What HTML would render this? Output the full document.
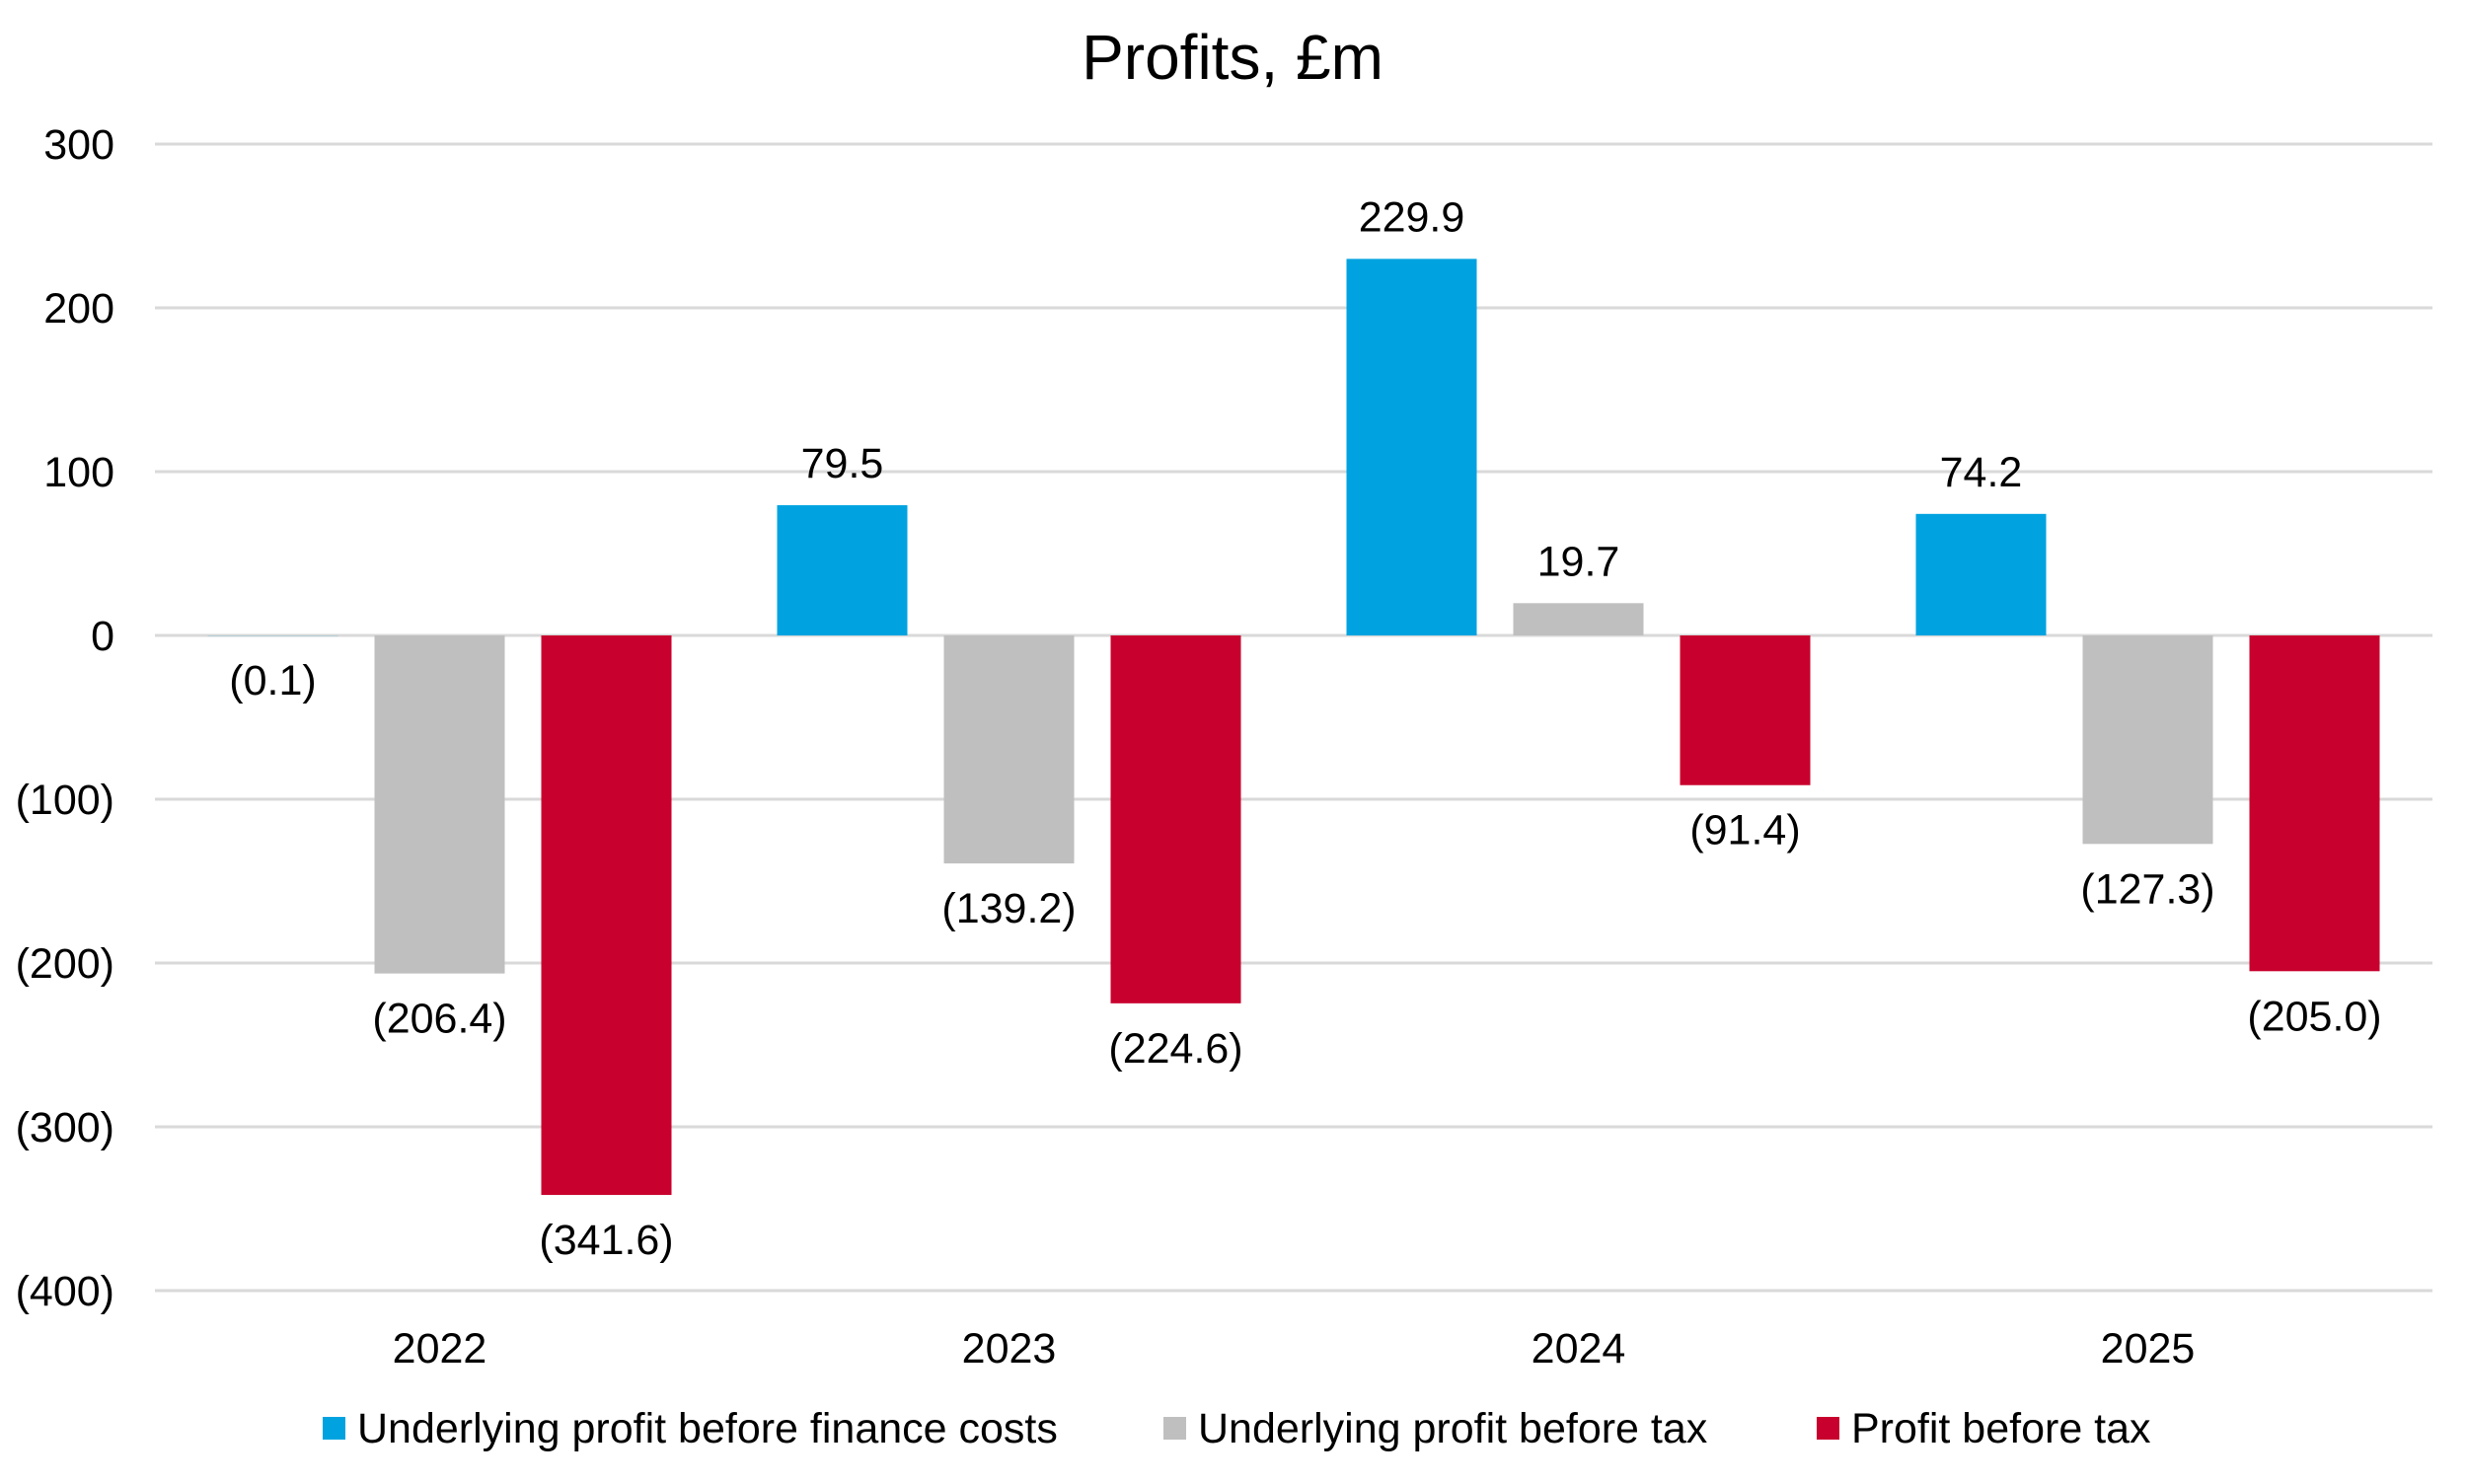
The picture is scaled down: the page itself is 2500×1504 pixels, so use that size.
<!DOCTYPE html>
<html><head><meta charset="utf-8"><style>
html,body{margin:0;padding:0;background:#fff;}
svg{display:block;font-family:"Liberation Sans",sans-serif;}
</style></head><body>
<svg id="chart" width="2500" height="1504" viewBox="0 0 2500 1504" xmlns="http://www.w3.org/2000/svg">
<text x="1249" y="80" font-size="64" text-anchor="middle" fill="#000">Profits, £m</text>
<g id="grid"></g><g id="bars"></g><g id="labels"></g><g id="legend"></g>
</svg>
<script>
const categories = ["2022","2023","2024","2025"];
const seriesNames = ["Underlying profit before finance costs","Underlying profit before tax","Profit before tax"];
const seriesColors = ["#00a3e0","#bfbfbf","#c8002d"];
const underlyingBeforeFinance = [-0.1, 79.5, 229.9, 74.2];
const underlyingBeforeTax = [-206.4, -139.2, 19.7, -127.3];
const profitBeforeTax = [-341.6, -224.6, -91.4, -205.0];
const yTicks = [300, 200, 100, 0, -100, -200, -300, -400];

const series = [underlyingBeforeFinance, underlyingBeforeTax, profitBeforeTax];
const NS = "http://www.w3.org/2000/svg";
const plotL = 157, plotR = 2465, y0px = 644, pxPer = 1.660;
const yScale = v => y0px - v * pxPer;
const groupW = (plotR - plotL) / categories.length;
const xCenter = i => plotL + groupW * (i + 0.5);
const barW = 132, barOff = 169;
const fmt = v => v < 0 ? "(" + Math.abs(v).toFixed(1) + ")" : v.toFixed(1);
function mk(tag, attrs, parent, text){const e=document.createElementNS(NS,tag);for(const k in attrs)e.setAttribute(k,attrs[k]);if(text!==undefined)e.textContent=text;parent.appendChild(e);return e;}
const grid=document.getElementById("grid"), bars=document.getElementById("bars"), labels=document.getElementById("labels"), legend=document.getElementById("legend");
yTicks.forEach(t=>{
  const l=mk("line",{x1:plotL,x2:plotR,y1:yScale(t),y2:yScale(t),stroke:"#d9d9d9","stroke-width":3},grid);
  
  
  const tx=mk("text",{x:116,y:yScale(t)+15,"font-size":43,"text-anchor":"end",fill:"#000"},grid,t<0?"("+Math.abs(t)+")":String(t));
  
  
});
categories.forEach((c,i)=>{
  const tx=mk("text",{x:xCenter(i),y:1381,"font-size":43,"text-anchor":"middle",fill:"#000"},labels,c);
  
  
  series.forEach((s,j)=>{
    const v=s[i], cx=xCenter(i)+(j-1)*barOff;
    const top=Math.min(yScale(v),y0px), h=Math.abs(yScale(v)-y0px);
    const r=mk("rect",{x:cx-barW/2,y:top,width:barW,height:h,fill:seriesColors[j]},bars);
    
    
    const ly = v>=0 ? yScale(v)-28 : Math.max(yScale(v),y0px)+60;
    const lt=mk("text",{x:cx,y:ly,"font-size":43,"text-anchor":"middle",fill:"#000"},labels,fmt(v));
    
    
  });
});
const legX=[327,1179,1841];
seriesNames.forEach((n,j)=>{
  const sq=mk("rect",{x:legX[j],y:1436,width:23,height:23,fill:seriesColors[j]},legend);
  
  
  const t=mk("text",{x:legX[j]+35,y:1462,"font-size":43,fill:"#000"},legend,n);
  
  
});
</script>
</body></html>
